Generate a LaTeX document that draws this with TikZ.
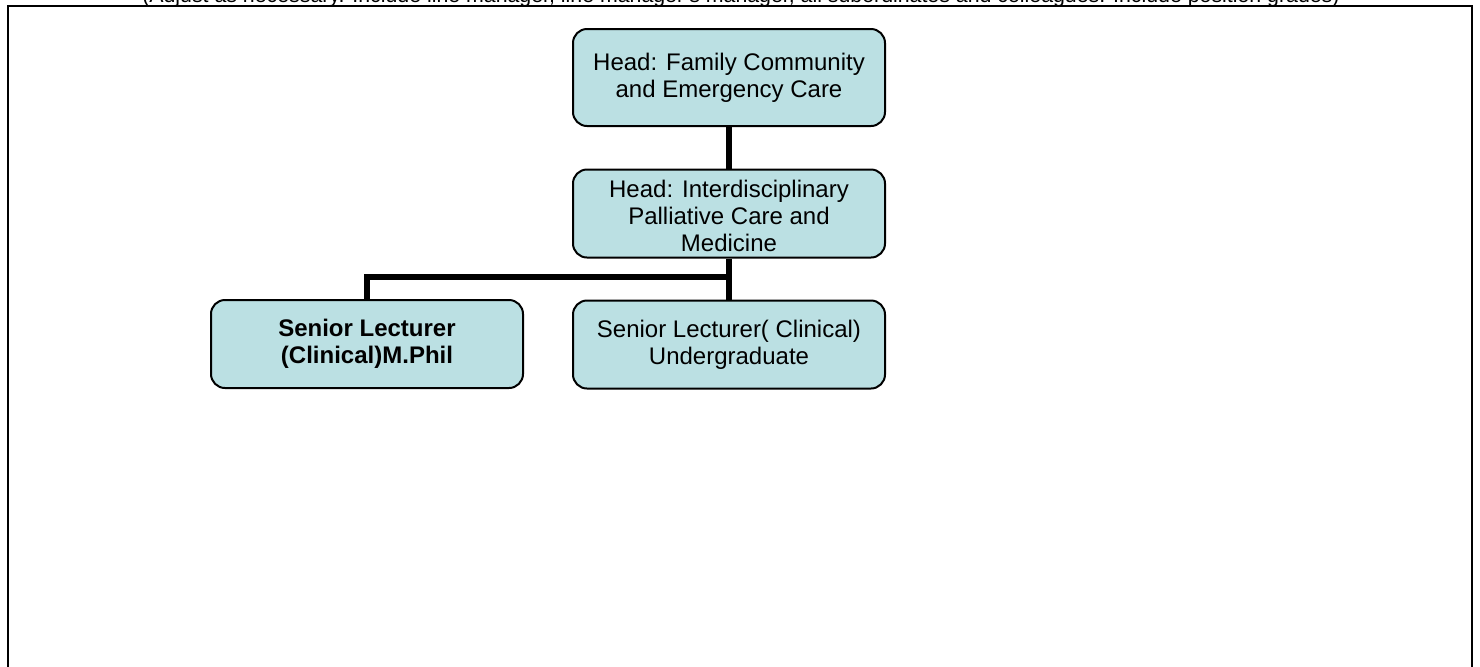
\documentclass[tikz,border=0pt]{standalone}
\usepackage{fontspec}
\setmainfont{Liberation Sans}
\definecolor{boxfill}{RGB}{187,224,227}
\begin{document}
\begin{tikzpicture}[x=0.5pt,y=-0.5pt,
  orgbox/.style={draw=black,line width=1pt,fill=boxfill,rounded corners=7pt,
    minimum width=156pt,minimum height=44pt,align=center,inner sep=2pt,
    font=\fontsize{12}{13.5}\selectfont},
  link/.style={line width=2.8pt}]
\useasboundingbox (0,0) rectangle (1480,666);
\clip (0,0) rectangle (1480,666);
\node[anchor=base,font=\fontsize{10.66}{13}\selectfont] (title) at (741,2.5)
  {(Adjust as necessary. Include line manager, line manager's manager, all subordinates and colleagues. Include position grades)};
\draw[line width=1pt] (8,680) coordinate (fl) -- (8,6) -- (1472,6) -- (1472,680) coordinate (fr);
\node[orgbox,minimum height=48.5pt] (head) at (729,77.5) {Head: Family Community\\and Emergency Care};
\node[orgbox] (mid) at (729,213.5) {\raisebox{-5.6pt}[0pt][0pt]{\begin{tabular}{@{}c@{}}Head: Interdisciplinary\\Palliative Care and\\Medicine\end{tabular}}};
\node[orgbox] (sr) at (729,344.5) {Senior Lecturer( Clinical)\\Undergraduate};
\node[orgbox,font=\fontsize{12}{13.5}\selectfont\bfseries] (sl) at (367,344) {Senior Lecturer\\(Clinical)M.Phil};
\draw[link] (head.south) -- (mid.north);
\draw[link] (mid.south) -- (sr.north);
\draw[link] (sl.north) -- ++(0,-22) -| (mid.south |- 0,278);
\end{tikzpicture}
\end{document}
